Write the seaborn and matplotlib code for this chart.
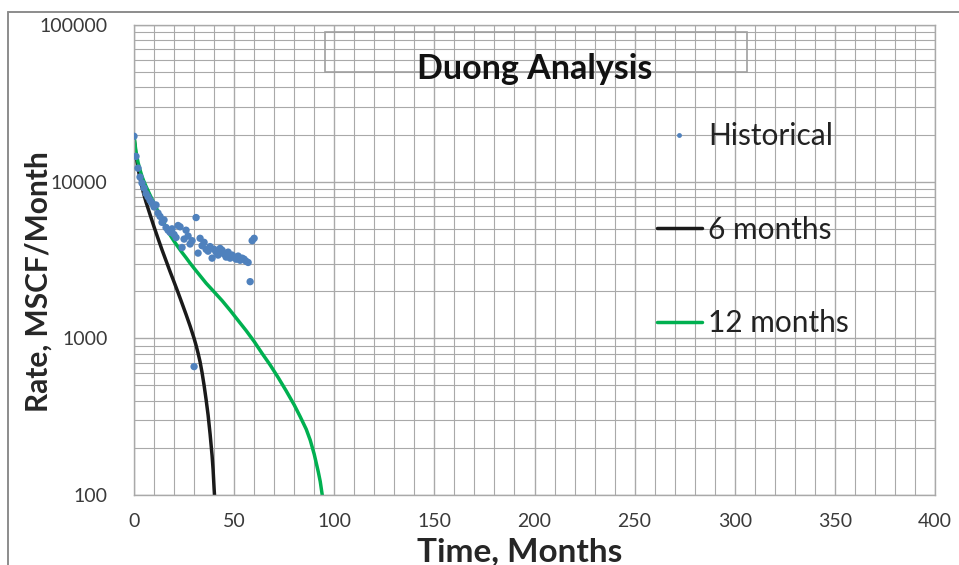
import numpy as np
import pandas as pd
import seaborn as sns
import matplotlib
matplotlib.use("Agg")
import matplotlib.pyplot as plt
from matplotlib.lines import Line2D
from matplotlib.patches import Rectangle
from matplotlib.ticker import LogLocator, MultipleLocator, FixedLocator, NullFormatter

# Monthly production history (month index, rate in MSCF/month)
hist_months = list(range(0, 61))
hist_rates = [19500, 14500, 12200, 10700, 9800, 9100, 8400, 8000, 7600, 7300,
              6900, 7100, 6300, 6000, 5500, 5700, 5100, 4900, 4750, 5000,
              4600, 4400, 5250, 5150, 3800, 4300, 4900, 4500, 4000, 4200,
              660, 5900, 3500, 4350, 3900, 4100, 3700, 3600, 3850, 3250,
              3700, 3550, 3400, 3750, 3650, 3450, 3300, 3550, 3250, 3400,
              3300, 3200, 3350, 3150, 3250, 3200, 3100, 3050, 2300, 4200,
              4350]

# Duong forecast fitted on the first 6 months
fit6_months = [0, 1, 2, 3, 4, 5, 6, 7, 8, 10, 12, 14, 16, 18, 20, 22, 24, 26,
               28, 30, 31, 32, 33, 34, 35, 36, 37, 38, 39, 39.5, 40, 40.2]
fit6_rates = [19500, 14600, 12200, 10500, 9220, 8220, 7410, 6760, 6170, 5150,
              4340, 3670, 3130, 2670, 2290, 1960, 1670, 1420, 1200, 1000, 902,
              804, 708, 603, 501, 407, 324, 245, 178, 145, 110, 100]

# Duong forecast fitted on the first 12 months
fit12_months = [0, 1, 2, 3, 4, 5, 6, 8, 10, 12, 14, 16, 18, 20, 22, 24, 26, 28,
                30, 33, 36, 40, 44, 48, 52, 56, 60, 64, 68, 72, 76, 80, 83, 86,
                88, 90, 92, 93, 94]
fit12_rates = [19500, 15500, 13300, 11900, 10800, 10000, 9330, 8220, 7280, 6460,
               5730, 5110, 4570, 4170, 3830, 3530, 3270, 3020, 2800, 2510, 2250,
               1980, 1740, 1510, 1300, 1120, 955, 800, 676, 562, 462, 376, 316,
               263, 224, 182, 141, 122, 100]

x_ticks = [0, 50, 100, 150, 200, 250, 300, 350, 400]
y_ticks = [100, 1000, 10000, 100000]
y_tick_labels = ["100", "1000", "10000", "100000"]

hist_df = pd.DataFrame({"month": hist_months, "rate": hist_rates})
fit6_df = pd.DataFrame({"month": fit6_months, "rate": fit6_rates})
fit12_df = pd.DataFrame({"month": fit12_months, "rate": fit12_rates})

sns.set_theme(style="white")
plt.rcParams["font.family"] = ["Lato", "DejaVu Sans"]

W, H = 959, 565
fig = plt.figure(figsize=(W / 100, H / 100), dpi=100)
ax = fig.add_axes([134 / W, 1 - 495 / H, (935 - 134) / W, (495 - 25) / H])

grid_col = "#a9a9a9"
ax.set_yscale("log")
ax.set_xlim(0, 400)
ax.set_ylim(100, 100000)

ax.xaxis.set_major_locator(FixedLocator(x_ticks))
ax.xaxis.set_minor_locator(MultipleLocator(10))
ax.yaxis.set_major_locator(FixedLocator(y_ticks))
ax.yaxis.set_minor_locator(LogLocator(base=10, subs=np.arange(2, 10)))
ax.yaxis.set_minor_formatter(NullFormatter())
ax.set_yticklabels(y_tick_labels)

ax.grid(which="major", color=grid_col, linewidth=1.0)
ax.grid(which="minor", color=grid_col, linewidth=0.8)
ax.set_axisbelow(True)
for s in ax.spines.values():
    s.set_color(grid_col)
    s.set_linewidth(1.0)

ax.tick_params(which="major", direction="out", length=5, width=1, color=grid_col,
               labelsize=14, labelcolor="#3a3a3a", pad=8)
ax.tick_params(which="minor", length=0)
ax.tick_params(axis="y", which="major", pad=14)

sns.lineplot(data=fit6_df, x="month", y="rate", ax=ax, color="#1a1a1a",
             linewidth=2.5, label="6 months", legend=False)
sns.lineplot(data=fit12_df, x="month", y="rate", ax=ax, color="#00b050",
             linewidth=2.5, label="12 months", legend=False)
sns.scatterplot(data=hist_df, x="month", y="rate", ax=ax, color="#4f81bd",
                s=28, edgecolor="none", label="Historical", legend=False, zorder=4)

ax.set_xlabel("Time, Months", fontsize=24, fontweight="bold", va="top")
ax.set_ylabel("Rate, MSCF/Month", fontsize=21.5, fontweight="bold")
ax.xaxis.set_label_coords(0.482, -0.089)
ax.yaxis.set_label_coords(-0.102, 0.455)

# Title with its outlined box
fig.patches.append(Rectangle((325 / W, 1 - 72 / H), (747 - 325) / W, (72 - 32) / H,
                             transform=fig.transFigure, fill=False,
                             edgecolor="#a0a0a0", linewidth=1.2))
fig.text(535 / W, 1 - 79 / H, "Duong Analysis", ha="center", va="baseline",
         fontsize=24.5, fontweight="bold", color="#111111")

handles = [
    Line2D([], [], linestyle="none", marker="o", markersize=3.5,
           markerfacecolor="#4f81bd", markeredgecolor="none"),
    Line2D([], [], color="#1a1a1a", linewidth=2.5),
    Line2D([], [], color="#00b050", linewidth=2.5),
]
fig.legend(handles, ["Historical", "6 months", "12 months"],
           loc="upper left", bbox_to_anchor=(657 / W, 1 - 122 / H),
           frameon=False, fontsize=21.5, labelspacing=2.2,
           handlelength=1.5, handletextpad=0.22, borderpad=0,
           borderaxespad=0, labelcolor="#222222")

# Outer chart frame (top and left edges)
fig.add_artist(Line2D([8 / W, 1], [1 - 12 / H, 1 - 12 / H], transform=fig.transFigure,
                      color="#8c8c8c", linewidth=1.4))
fig.add_artist(Line2D([8 / W, 8 / W], [0, 1 - 12 / H], transform=fig.transFigure,
                      color="#8c8c8c", linewidth=1.4))

fig.savefig("out.png", dpi=100)
